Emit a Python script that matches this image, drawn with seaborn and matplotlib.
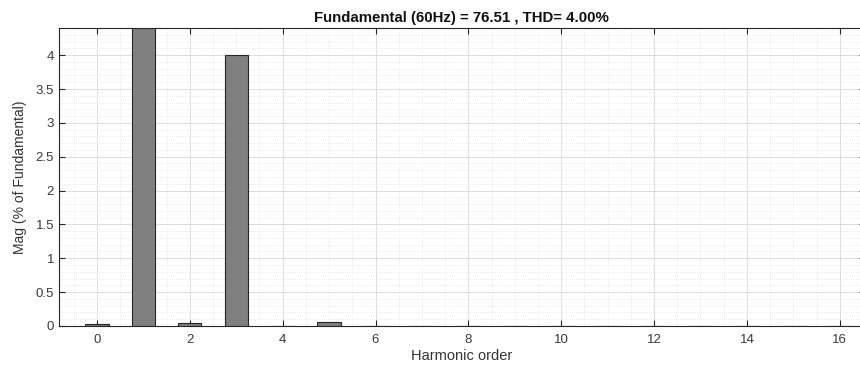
import matplotlib
matplotlib.use("Agg")
import matplotlib.pyplot as plt
import seaborn as sns
import pandas as pd
from matplotlib.ticker import MultipleLocator

harmonic_order = list(range(0, 17))
magnitude_pct = [0.03, 100.0, 0.05, 4.00, 0.0, 0.06, 0.0, 0.0, 0.0,
                 0.0, 0.0, 0.0, 0.0, 0.0, 0.0, 0.0, 0.0]
title_text = "Fundamental (60Hz) = 76.51 , THD= 4.00%"
x_label = "Harmonic order"
y_label = "Mag (% of Fundamental)"
x_ticks = [0, 2, 4, 6, 8, 10, 12, 14, 16]
y_ticks = [0, 0.5, 1, 1.5, 2, 2.5, 3, 3.5, 4]

df = pd.DataFrame({"h": harmonic_order, "mag": magnitude_pct})

sns.set_style("white")
plt.rcParams["font.family"] = ["Liberation Sans", "DejaVu Sans"]

fig = plt.figure(figsize=(8.6, 3.65), dpi=100)
ax = fig.add_axes([0.0686, 0.107, 0.937, 0.816])

sns.barplot(data=df, x="h", y="mag", native_scale=True, width=0.5,
            color="#808080", saturation=1, edgecolor="#262626",
            linewidth=0.8, ax=ax)

ax.set_xlim(-0.818, 16.54)
ax.set_ylim(0, 4.4)
ax.set_xticks(x_ticks)
ax.set_xticklabels([str(t) for t in x_ticks])
ax.set_yticks(y_ticks)
ax.set_yticklabels(["0", "0.5", "1", "1.5", "2", "2.5", "3", "3.5", "4"])
ax.xaxis.set_minor_locator(MultipleLocator(0.5))
ax.yaxis.set_minor_locator(MultipleLocator(0.1))

ax.grid(which="major", color="#dcdcdc", linewidth=0.7, linestyle="-")
ax.grid(which="minor", color="#e2e2e2", linewidth=0.6, linestyle=(0, (1, 1.5)))
ax.set_axisbelow(True)

ax.tick_params(axis="both", which="major", direction="in", length=4,
               width=0.8, color="#262626", labelsize=9.5,
               labelcolor="#3a3a3a", top=True, right=True, bottom=True, left=True)
ax.tick_params(axis="x", pad=6)
ax.tick_params(which="minor", length=0)

for s in ["left", "bottom", "top", "right"]:
    ax.spines[s].set_visible(True)
    ax.spines[s].set_color("#262626")
    ax.spines[s].set_linewidth(0.8)

ax.text(0.5, 1.012, title_text, transform=fig.transFigure if False else ax.transAxes,
        ha="center", va="bottom", fontsize=10.8, fontweight="bold", color="#111111")
ax.set_xlabel(x_label, fontsize=10.5, color="#333333", labelpad=2)
ax.set_ylabel(y_label, fontsize=10, color="#333333", labelpad=6)

fig.savefig("out.png", dpi=100)
